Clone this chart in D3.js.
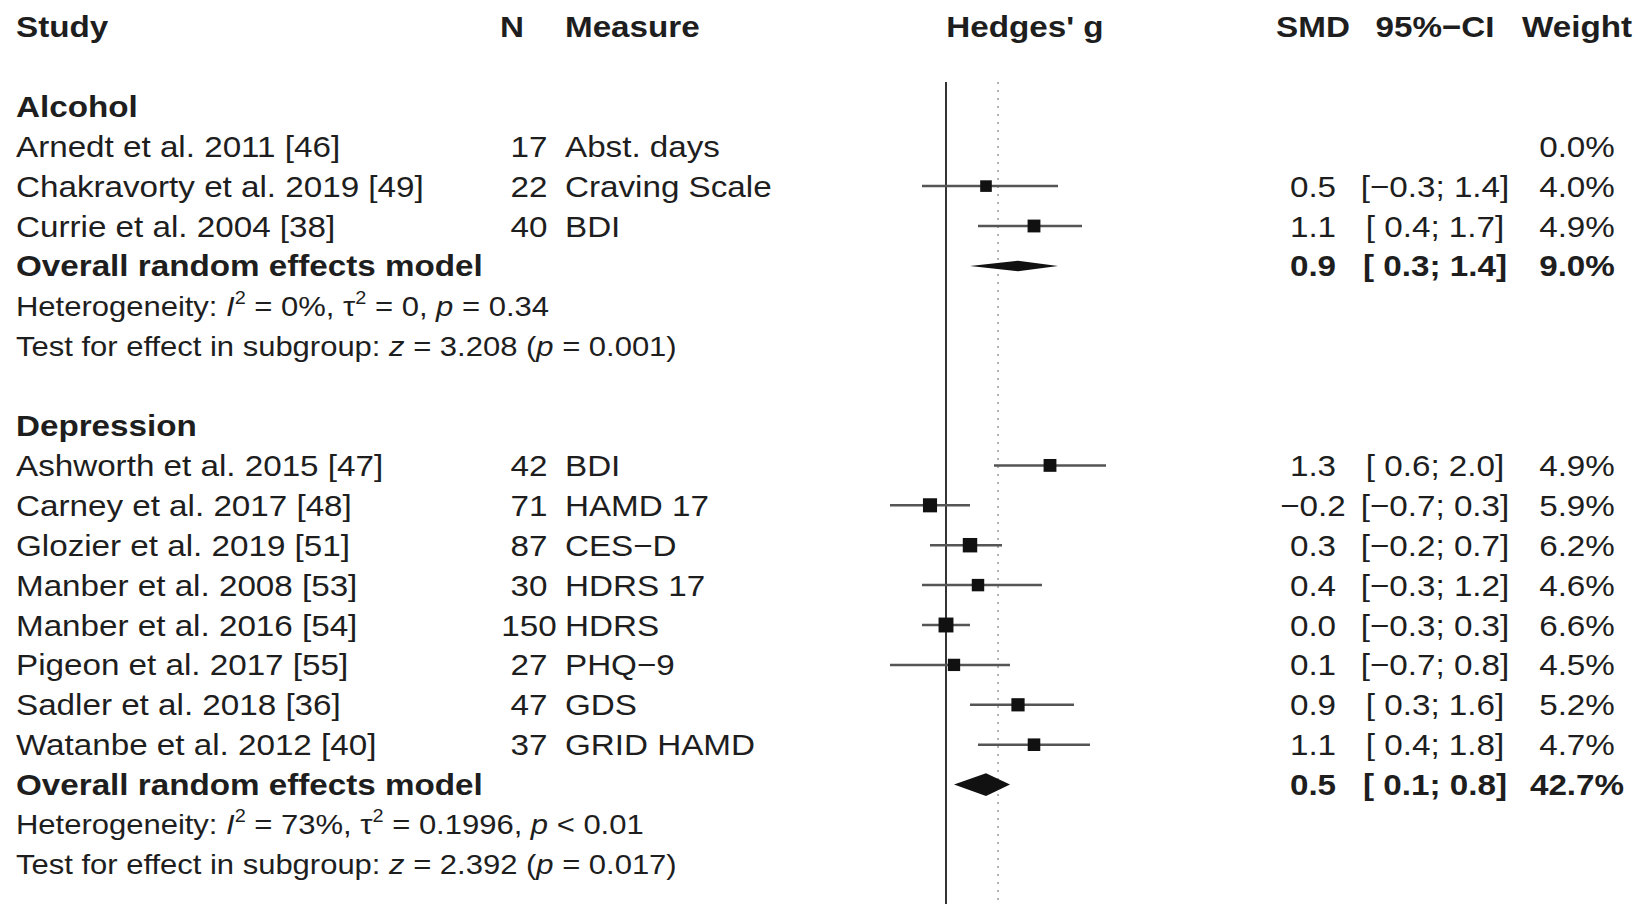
<!DOCTYPE html>
<html>
<head>
<meta charset="utf-8">
<script src="https://cdn.jsdelivr.net/npm/d3@7"></script>
<style>
  body { margin: 0; background: #fff; }
  text { font-family: "Liberation Sans", Arial, Helvetica, sans-serif; fill: #1e1e1e; white-space: pre; }
</style>
</head>
<body>
<div id="chart"></div>
<script>
// subgroups and their pooled results
var groups = ["Alcohol", "Depression"];
var pooledSmd = [0.9, 0.5];
var pooledLow = [0.3, 0.1];
var pooledHigh = [1.4, 0.8];
var pooledWeight = [9.0, 42.7];
var hetI2 = ["0%", "73%"];
var hetTau2 = ["0", "0.1996"];
var hetP = ["= 0.34", "< 0.01"];
var testZ = ["3.208", "2.392"];
var testP = ["0.001", "0.017"];

// studies
var studies = ["Arnedt et al. 2011 [46]", "Chakravorty et al. 2019 [49]", "Currie et al. 2004 [38]",
    "Ashworth et al. 2015 [47]", "Carney et al. 2017 [48]", "Glozier et al. 2019 [51]",
    "Manber et al. 2008 [53]", "Manber et al. 2016 [54]", "Pigeon et al. 2017 [55]",
    "Sadler et al. 2018 [36]", "Watanbe et al. 2012 [40]"];
var studyGroup = [0, 0, 0, 1, 1, 1, 1, 1, 1, 1, 1];
var sampleN = [17, 22, 40, 42, 71, 87, 30, 150, 27, 47, 37];
var measures = ["Abst. days", "Craving Scale", "BDI", "BDI", "HAMD 17", "CES\u2212D",
    "HDRS 17", "HDRS", "PHQ\u22129", "GDS", "GRID HAMD"];
var smd = [null, 0.5, 1.1, 1.3, -0.2, 0.3, 0.4, 0.0, 0.1, 0.9, 1.1];
var ciLow = [null, -0.3, 0.4, 0.6, -0.7, -0.2, -0.3, -0.3, -0.7, 0.3, 0.4];
var ciHigh = [null, 1.4, 1.7, 2.0, 0.3, 0.7, 1.2, 0.3, 0.8, 1.6, 1.8];
var weights = [0.0, 4.0, 4.9, 4.9, 5.9, 6.2, 4.6, 6.6, 4.5, 5.2, 4.7];

// overall effect (dotted reference line)
var overallEffect = 0.65;

var headers = ["Study", "N", "Measure", "Hedges' g", "SMD", "95%\u2212CI", "Weight"];

var width = 1646, height = 904;
var stretch = 1.107;

var svg = d3.select("#chart").append("svg")
    .attr("width", width)
    .attr("height", height);

// work out which row each line goes in
var rows = [];
var r = 1;
groups.forEach(function (g, gi) {
    r++;
    rows.push({ type: "group", group: gi, row: r++ });
    studies.forEach(function (s, i) {
        if (studyGroup[i] === gi) rows.push({ type: "study", idx: i, row: r++ });
    });
    rows.push({ type: "pooled", group: gi, row: r++ });
    rows.push({ type: "het", group: gi, row: r++ });
    rows.push({ type: "test", group: gi, row: r++ });
});

var yScale = d3.scaleLinear().domain([0, 21]).range([26.5, 26.5 + 21 * 39.9]);
var xScale = d3.scaleLinear().domain([0, 1]).range([946, 1026]);

// column positions
var colStudy = 16, colN = 529, colNHead = 512, colMeasure = 565,
    colPlot = 1025, colSmd = 1313, colCi = 1435, colWeight = 1577;

function fmt(v) {
    return v.toFixed(1).replace("-", "\u2212");
}
function fmtCi(lo, hi) {
    var a = fmt(lo);
    if (lo >= 0) a = " " + a;
    return "[" + a + "; " + fmt(hi) + "]";
}

function addText(x, y, str, anchor, bold, size) {
    return svg.append("text")
        .attr("transform", "translate(" + x + "," + y + ") scale(" + stretch + ",1)")
        .attr("dy", "0.35em")
        .attr("text-anchor", anchor || "start")
        .style("font-weight", bold ? "bold" : "normal")
        .style("font-size", (size || 30) + "px")
        .text(str);
}

// header
var hy = yScale(0);
addText(colStudy, hy, headers[0], "start", true);
addText(colNHead, hy, headers[1], "middle", true);
addText(colMeasure, hy, headers[2], "start", true);
addText(colPlot, hy, headers[3], "middle", true);
addText(colSmd, hy, headers[4], "middle", true);
addText(colCi, hy, headers[5], "middle", true);
addText(colWeight, hy, headers[6], "middle", true);

// reference lines
svg.append("line")
    .attr("x1", xScale(0)).attr("x2", xScale(0))
    .attr("y1", 82).attr("y2", height)
    .attr("stroke", "#333").attr("stroke-width", 2);
svg.append("line")
    .attr("x1", xScale(overallEffect)).attr("x2", xScale(overallEffect))
    .attr("y1", 82).attr("y2", height)
    .attr("stroke", "#999").attr("stroke-width", 1.5)
    .attr("stroke-dasharray", "2,6");

rows.forEach(function (d) {
    var y = yScale(d.row);
    if (d.type === "group") {
        addText(colStudy, y, groups[d.group], "start", true);
    } else if (d.type === "study") {
        var i = d.idx;
        addText(colStudy, y, studies[i]);
        addText(colN, y, String(sampleN[i]), "middle");
        addText(colMeasure, y, measures[i]);
        addText(colWeight, y, weights[i].toFixed(1) + "%", "middle");
        if (smd[i] !== null) {
            addText(colSmd, y, fmt(smd[i]), "middle");
            addText(colCi, y, fmtCi(ciLow[i], ciHigh[i]), "middle");
            svg.append("line")
                .attr("x1", xScale(ciLow[i])).attr("x2", xScale(ciHigh[i]))
                .attr("y1", y).attr("y2", y)
                .attr("stroke", "#555").attr("stroke-width", 2.5);
            var side = 5.8 * Math.sqrt(weights[i]);
            svg.append("rect")
                .attr("x", xScale(smd[i]) - side / 2)
                .attr("y", y - side / 2)
                .attr("width", side).attr("height", side)
                .attr("fill", "#111");
        }
    } else if (d.type === "pooled") {
        var g = d.group;
        addText(colStudy, y, "Overall random effects model", "start", true);
        addText(colSmd, y, fmt(pooledSmd[g]), "middle", true);
        addText(colCi, y, fmtCi(pooledLow[g], pooledHigh[g]), "middle", true);
        addText(colWeight, y, pooledWeight[g].toFixed(1) + "%", "middle", true);
        var h = 1.75 * Math.sqrt(pooledWeight[g]);
        var pts = [[xScale(pooledLow[g]), y], [xScale(pooledSmd[g]), y - h],
            [xScale(pooledHigh[g]), y], [xScale(pooledSmd[g]), y + h]];
        svg.append("path")
            .attr("d", d3.line()(pts) + "Z")
            .attr("fill", "#111");
    } else if (d.type === "het") {
        var t = addText(colStudy, y, "", "start", false, 28);
        t.append("tspan").text("Heterogeneity: ");
        t.append("tspan").style("font-style", "italic").text("I");
        t.append("tspan").attr("dy", -12).style("font-size", "18px").text("2");
        t.append("tspan").attr("dy", 12).text(" = " + hetI2[d.group] + ", \u03c4");
        t.append("tspan").attr("dy", -12).style("font-size", "18px").text("2");
        t.append("tspan").attr("dy", 12).text(" = " + hetTau2[d.group] + ", ");
        t.append("tspan").style("font-style", "italic").text("p");
        t.append("tspan").text(" " + hetP[d.group]);
    } else if (d.type === "test") {
        var t2 = addText(colStudy, y, "", "start", false, 28);
        t2.append("tspan").text("Test for effect in subgroup: ");
        t2.append("tspan").style("font-style", "italic").text("z");
        t2.append("tspan").text(" = " + testZ[d.group] + " (");
        t2.append("tspan").style("font-style", "italic").text("p");
        t2.append("tspan").text(" = " + testP[d.group] + ")");
    }
});
</script>
</body>
</html>
